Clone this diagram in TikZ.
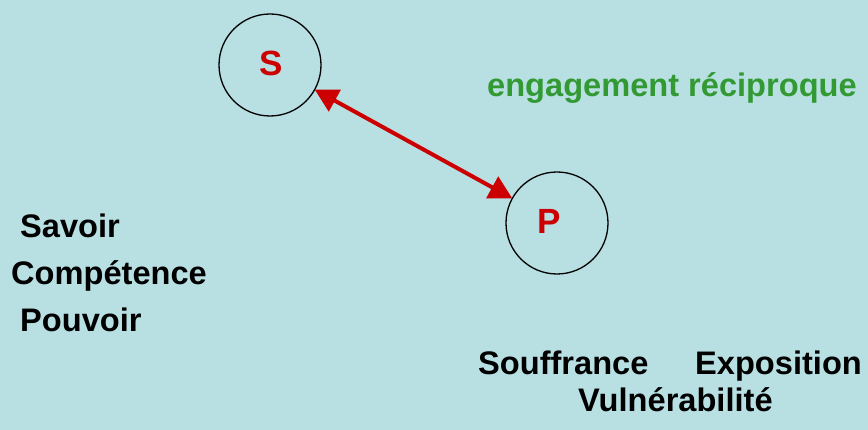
\documentclass[tikz,border=0pt]{standalone}
\usepackage{fontspec}
\setmainfont{Liberation Sans}
\usetikzlibrary{arrows.meta}
\definecolor{bgc}{RGB}{184,224,227}
\definecolor{redc}{RGB}{204,0,0}
\definecolor{greenc}{RGB}{51,153,51}
\begin{document}
\begin{tikzpicture}[x=1pt,y=-1pt,
  ring/.style={circle,draw=black,line width=1.3pt,minimum size=102pt,inner sep=0pt,outer sep=0pt},
  letter/.style={inner sep=0pt,anchor=base,text=redc,font=\bfseries\fontsize{35}{40}\selectfont},
  word/.style={inner sep=0pt,anchor=base west,font=\bfseries\fontsize{32.6}{38}\selectfont},
  link/.style={draw=redc,line width=4pt,{Triangle[length=23pt,width=24pt]}-{Triangle[length=23pt,width=24pt]}}]
\fill[bgc] (0,0) rectangle (868,430);
\useasboundingbox (0,0) rectangle (868,430);
\node[ring] (s) at (270,65) {};
\node[ring] (p) at (557,223) {};
\node[letter] (sl) at (271,76) {S};
\node[letter] (pl) at (549,234) {P};
\draw[link] (s) -- (p);
\node[word,text=greenc] (eng) at (487,97) {engagement réciproque};
\node[word] (sav) at (20,238) {Savoir};
\node[word] (com) at (11,285) {Compétence};
\node[word] (pou) at (20,332) {Pouvoir};
\node[word] (sou) at (478,375) {Souffrance};
\node[word] (exp) at (695,375) {Exposition};
\node[word] (vul) at (578,412) {Vulnérabilité};
\end{tikzpicture}
\end{document}
